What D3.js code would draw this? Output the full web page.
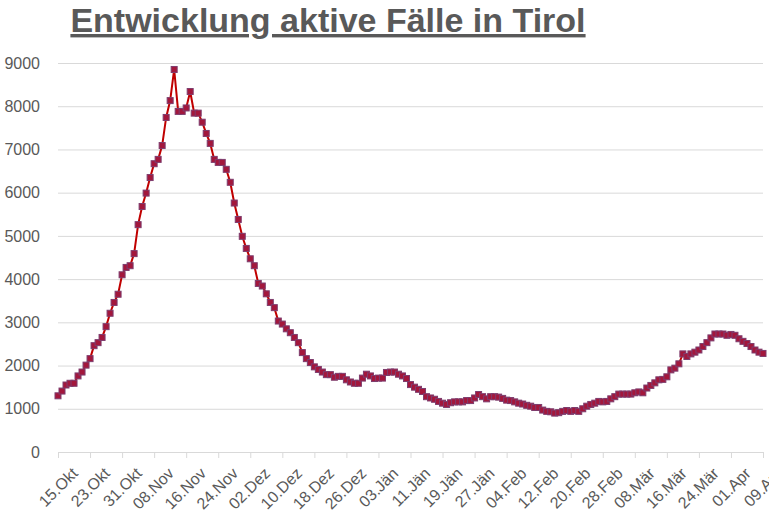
<!DOCTYPE html>
<html><head><meta charset="utf-8">
<script src="https://cdn.jsdelivr.net/npm/d3@7"></script>
<style>body{margin:0;background:#fff}</style>
</head><body>
<svg id="c" width="769" height="529"></svg>
<script>
// active cases per day, 15.Okt .. 09.Apr
var values = [1300,1410,1550,1590,1590,1760,1850,2010,2160,2460,2530,2650,2900,3210,3460,3650,4100,4270,4310,4590,
  5260,5680,5990,6350,6670,6770,7090,7740,8130,8850,7880,7880,7960,8340,7840,7840,7630,7370,7140,6770,
  6700,6700,6540,6240,5760,5380,4990,4710,4470,4310,3900,3840,3660,3460,3340,3030,2960,2850,2760,2650,
  2530,2300,2160,2070,1970,1910,1850,1790,1790,1730,1750,1750,1670,1620,1590,1590,1710,1800,1760,1700,
  1710,1710,1840,1850,1850,1800,1760,1700,1560,1500,1450,1400,1280,1250,1220,1170,1130,1100,1140,1160,
  1160,1160,1190,1190,1250,1330,1280,1230,1280,1280,1270,1240,1200,1190,1160,1130,1110,1080,1060,1030,
  1030,970,940,930,900,910,940,960,940,960,940,1000,1060,1100,1130,1170,1160,1170,1230,1280,
  1340,1340,1340,1340,1370,1390,1370,1480,1540,1600,1670,1680,1740,1900,1940,2040,2270,2210,2270,2310,
  2360,2440,2530,2640,2730,2730,2730,2700,2720,2700,2620,2560,2510,2440,2360,2310,2280];
var tickLabels = ["15.Okt","23.Okt","31.Okt","08.Nov","16.Nov","24.Nov","02.Dez","10.Dez","18.Dez","26.Dez",
  "03.Jän","11.Jän","19.Jän","27.Jän","04.Feb","12.Feb","20.Feb","28.Feb","08.Mär","16.Mär","24.Mär","01.Apr","09.Apr"];
var yTicks = [0,1000,2000,3000,4000,5000,6000,7000,8000,9000];

var svg = d3.select("#c");
var x = d3.scaleLinear().domain([0, values.length - 1]).range([58, 763]);
var y = d3.scaleLinear().domain([0, 9000]).range([452, 63]);
var grey = "#595959";

// title
svg.append("text").attr("x", 328).attr("y", 32).attr("text-anchor", "middle")
  .attr("font-family", "Liberation Sans, Arial").attr("font-size", 34).attr("font-weight", "bold")
  .attr("text-decoration", "underline").attr("fill", grey).text("Entwicklung aktive Fälle in Tirol");

// gridlines + y labels
var ya = svg.append("g").attr("transform", "translate(58,0)")
  .call(d3.axisLeft(y).tickValues(yTicks).tickSize(-705).tickPadding(18).tickFormat(d3.format("d")));
ya.select(".domain").remove();
ya.selectAll("line").attr("stroke", "#d9d9d9");
ya.selectAll("text").attr("font-family", "Liberation Sans, Arial").attr("font-size", 16).attr("fill", grey);
ya.selectAll(".tick").filter(d => d === 0).select("line").remove();

// x axis
var xa = svg.append("g").attr("transform", "translate(0,452)")
  .call(d3.axisBottom(x).tickValues(d3.range(0, values.length, 8)).tickSize(6).tickFormat((d, i) => tickLabels[i]));
xa.select(".domain").attr("stroke", "#d9d9d9");
xa.selectAll("line").attr("stroke", "#d9d9d9");
xa.selectAll("text").attr("font-family", "Liberation Sans, Arial").attr("font-size", 16).attr("fill", grey)
  .attr("text-anchor", "end").attr("transform", "translate(6,8) rotate(-45)");

// line
svg.append("path").datum(values).attr("fill", "none").attr("stroke", "#c00000").attr("stroke-width", 2)
  .attr("d", d3.line().x((d, i) => x(i)).y(d => y(d)));

// markers
svg.append("g").selectAll("rect").data(values).join("rect")
  .attr("x", (d, i) => x(i) - 3).attr("y", d => y(d) - 3).attr("width", 6).attr("height", 6)
  .attr("fill", "#a3173c").attr("stroke", "#7e3d6e").attr("stroke-width", 1);
</script>
</body></html>
